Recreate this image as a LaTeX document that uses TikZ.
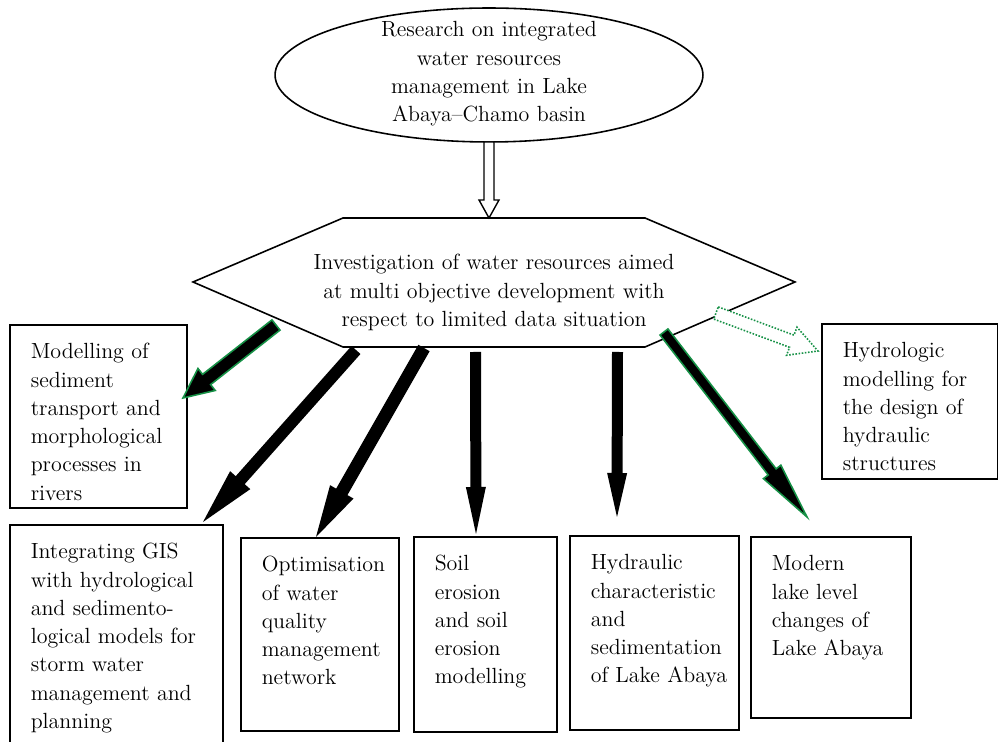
\documentclass[tikz,border=0pt]{standalone}
\usepackage{fontspec}
\usepackage{tikz}
\usetikzlibrary{calc}
\definecolor{edgegreen}{RGB}{22,145,70}
\hyphenpenalty=10000
\exhyphenpenalty=10000
\newcommand{\fatarrow}[6]{%
  \coordinate (fa-b) at ($(#3)!#6!(#2)$);
  \path[#1] ($(#2)!#4!90:(#3)$) -- ($(fa-b)!#4!-90:(#2)$) -- ($(fa-b)!#5!-90:(#2)$) -- (#3)
    -- ($(fa-b)!#5!90:(#2)$) -- ($(fa-b)!#4!90:(#2)$) -- ($(#2)!#4!-90:(#3)$) -- cycle;}

\begin{document}
\begin{tikzpicture}[x=0.02cm,y=-0.02cm,
    txt/.style={font=\fontsize{12.5}{16.1}\selectfont},
    box/.style={txt,draw,line width=0.9pt,anchor=north west,align=left,
      inner xsep=0.42cm,inner ysep=0pt,text height=0.68cm},
    blackarrow/.style={fill=black},
    greenarrow/.style={fill=black,draw=edgegreen,line width=0.9pt},
    hollowarrow/.style={fill=white,draw=black,line width=0.8pt},
    dotarrow/.style={fill=white,draw=edgegreen,line width=0.9pt,dash pattern=on 0.9pt off 0.9pt}]
  \useasboundingbox (0,0) rectangle (998,742);

  \draw[line width=0.9pt] (489,75) ellipse [x radius=4.28cm, y radius=1.34cm];
  \node[txt,align=center,text width=6cm,anchor=base] (research) at (489,37)
    {Research on integrated\\water resources\\management in Lake\\Abaya--Chamo basin};

  \draw[line width=0.9pt] (193,282) -- (343,218) -- (645,218) -- (795,282) -- (645,347) -- (343,347) -- cycle;
  \node[txt,align=center,text width=8.5cm,anchor=base] (invest) at (494,270)
    {Investigation of water resources aimed\\at multi objective development with\\respect to limited data situation};

  \node[box,text width=2.70cm,text depth=2.98cm] (sediment) at (9,324)
    {Modelling~of\\sediment\\transport~and\\morphological\\processes~in\\rivers};
  \node[box,text width=3.42cm,text depth=4.04cm] (gis) at (9,524)
    {Integrating~GIS\\with~hydrological\\and~sedimento-\\logical~models~for\\storm~water\\management~and\\planning};
  \node[box,text width=2.32cm,text depth=3.18cm] (quality) at (240,537)
    {Optimisation\\of~water\\quality\\management\\network};
  \node[box,text width=2.02cm,text depth=3.22cm] (soil) at (413,536)
    {Soil\\erosion\\and~soil\\erosion\\modelling};
  \node[box,text width=2.54cm,text depth=3.20cm] (hydraulic) at (569,535)
    {Hydraulic\\characteristic\\and\\sedimentation\\of~Lake~Abaya};
  \node[box,text width=2.36cm,text depth=2.94cm] (lakelevel) at (750,536)
    {Modern\\lake~level\\changes~of\\Lake~Abaya};
  \node[box,text width=2.68cm,text depth=2.42cm] (hydrologic) at (821,323)
    {Hydrologic\\modelling~for\\the~design~of\\hydraulic\\structures};

  \coordinate (r-out) at (489,142);
  \coordinate (i-in) at (489,218);
  \coordinate (s-out) at (276,325);
  \coordinate (s-in) at (183,398);
  \coordinate (g-out) at (356,350);
  \coordinate (g-in) at (203,522);
  \coordinate (q-out) at (424,348);
  \coordinate (q-in) at (316,537);
  \coordinate (e-out) at (475.5,352);
  \coordinate (e-in) at (476,534);
  \coordinate (h-out) at (617.5,352);
  \coordinate (h-in) at (617,517);
  \coordinate (l-out) at (664,332);
  \coordinate (l-in) at (807,517);
  \coordinate (d-out) at (716,313);
  \coordinate (d-in) at (818,351);

  \fatarrow{hollowarrow}{r-out}{i-in}{0.1cm}{0.2cm}{0.36cm}
  \fatarrow{greenarrow}{s-out}{s-in}{0.13cm}{0.28cm}{0.6cm}
  \fatarrow{blackarrow}{g-out}{g-in}{0.12cm}{0.27cm}{1.12cm}
  \fatarrow{blackarrow}{q-out}{q-in}{0.13cm}{0.27cm}{1.04cm}
  \fatarrow{blackarrow}{e-out}{e-in}{0.11cm}{0.2cm}{0.94cm}
  \fatarrow{blackarrow}{h-out}{h-in}{0.11cm}{0.2cm}{0.88cm}
  \fatarrow{greenarrow}{l-out}{l-in}{0.1cm}{0.22cm}{1.14cm}
  \fatarrow{dotarrow}{d-out}{d-in}{0.13cm}{0.3cm}{0.56cm}
\end{tikzpicture}
\end{document}
